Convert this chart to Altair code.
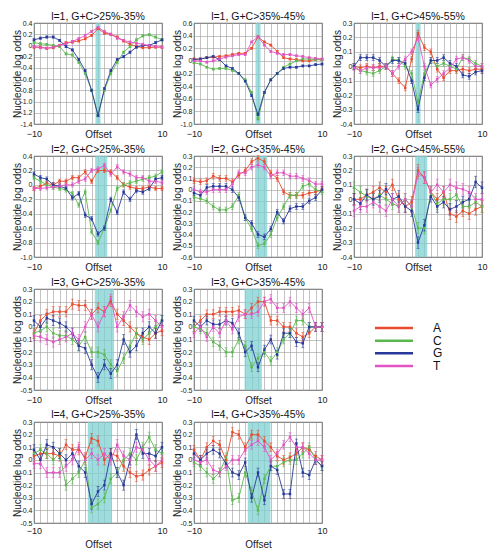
import altair as alt
import pandas as pd

offsets = list(range(-10, 11))
nucleotides = ["A", "C", "G", "T"]
colors = ["#ea4a2e", "#5bb84f", "#26399a", "#e253c4"]

panel_titles = [
    "l=1, G+C>25%-35%", "l=1, G+C>35%-45%", "l=1, G+C>45%-55%",
    "l=2, G+C>25%-35%", "l=2, G+C>35%-45%", "l=2, G+C>45%-55%",
    "l=3, G+C>25%-35%", "l=3, G+C>35%-45%",
    "l=4, G+C>25%-35%", "l=4, G+C>35%-45%",
]
y_min = [-1.4, -1.0, -0.4, -1.0, -0.6, -0.4, -0.5, -0.5, -0.5, -0.5]
y_max = [0.4, 0.6, 0.3, 0.4, 0.3, 0.3, 0.3, 0.3, 0.3, 0.3]
y_step = [0.2, 0.2, 0.1, 0.2, 0.1, 0.1, 0.1, 0.1, 0.1, 0.1]
band_lo = [-0.4, -0.4, -0.4, -0.45, -0.45, -0.45, -0.5, -2.1, -1.6, -1.6]
band_hi = [0.4, 0.4, 0.4, 1.45, 1.45, 1.45, 2.5, 0.6, 2.1, 1.95]
err_size = [0.02, 0.015, 0.02, 0.03, 0.025, 0.04, 0.04, 0.035, 0.04, 0.035]

# panel 1: l=1, GC 25-35
p1_A = [-0.03, -0.03, -0.05, -0.04, 0.00, 0.05, 0.06, 0.08, 0.12, 0.18, 0.30, 0.22, 0.20, 0.15, 0.08, 0.02, -0.02, -0.04, -0.04, -0.03, -0.03]
p1_C = [0.05, 0.03, 0.02, 0.00, -0.02, -0.15, -0.17, -0.30, -0.50, -0.80, -1.25, -0.80, -0.50, -0.30, -0.12, -0.02, 0.10, 0.17, 0.19, 0.15, 0.10]
p1_G = [0.10, 0.13, 0.15, 0.15, 0.09, -0.02, -0.08, -0.25, -0.45, -0.80, -1.25, -0.77, -0.45, -0.25, -0.20, -0.12, -0.03, 0.00, 0.00, 0.05, 0.10]
p1_T = [-0.02, -0.04, -0.05, -0.03, 0.00, 0.03, 0.07, 0.12, 0.18, 0.25, 0.32, 0.25, 0.20, 0.13, 0.09, 0.06, 0.04, 0.02, 0.00, -0.02, -0.03]
# panel 2: l=1, GC 35-45
p2_A = [0.03, 0.03, 0.05, 0.06, 0.07, 0.08, 0.10, 0.12, 0.12, 0.20, 0.38, 0.30, 0.25, 0.15, 0.05, 0.03, 0.02, 0.00, 0.00, 0.02, 0.02]
p2_C = [-0.03, -0.05, -0.10, -0.13, -0.12, -0.12, -0.15, -0.20, -0.30, -0.50, -0.92, -0.50, -0.30, -0.20, -0.10, -0.05, 0.00, 0.03, 0.03, 0.02, 0.02]
p2_G = [0.02, 0.03, 0.05, 0.07, 0.02, -0.08, -0.12, -0.20, -0.32, -0.55, -0.85, -0.50, -0.30, -0.20, -0.12, -0.10, -0.10, -0.08, -0.08, -0.06, -0.05]
p2_T = [0.00, 0.00, -0.02, 0.00, 0.03, 0.06, 0.08, 0.10, 0.10, 0.30, 0.38, 0.25, 0.15, 0.12, 0.10, 0.10, 0.08, 0.07, 0.05, 0.04, 0.03]
# panel 3: l=1, GC 45-55
p3_A = [0.00, -0.01, 0.00, -0.01, 0.00, 0.00, -0.05, -0.10, -0.15, 0.05, 0.23, 0.13, 0.10, -0.02, -0.08, -0.03, -0.03, -0.02, -0.03, -0.02, -0.02]
p3_C = [0.00, -0.03, -0.04, -0.05, -0.03, 0.00, 0.05, 0.04, 0.00, -0.05, -0.25, -0.05, 0.04, 0.00, 0.02, 0.00, -0.02, 0.06, 0.05, 0.02, 0.00]
p3_G = [0.00, 0.06, 0.06, 0.06, 0.04, 0.00, 0.04, 0.04, 0.02, -0.10, -0.30, -0.08, 0.04, 0.04, 0.06, 0.02, 0.00, -0.06, -0.07, -0.04, -0.03]
p3_T = [-0.01, -0.03, -0.01, -0.01, -0.01, 0.00, -0.05, 0.00, 0.05, 0.10, 0.20, 0.00, -0.13, -0.09, -0.05, -0.01, 0.05, 0.06, 0.04, 0.00, 0.00]
# panel 4: l=2, GC 25-35
p4_A = [-0.05, -0.02, 0.02, 0.00, 0.05, 0.05, 0.10, 0.10, 0.18, 0.05, 0.20, 0.20, 0.18, 0.10, 0.00, -0.03, -0.05, -0.05, -0.03, -0.05, -0.05]
p4_C = [0.10, 0.05, 0.00, -0.03, -0.05, -0.07, -0.12, -0.28, -0.10, -0.65, -0.80, -0.60, -0.35, -0.05, 0.00, 0.03, 0.05, 0.08, 0.10, 0.12, 0.18]
p4_G = [0.15, 0.10, 0.08, 0.00, -0.02, -0.05, -0.18, -0.12, -0.42, -0.47, -0.68, -0.60, -0.20, -0.38, -0.10, -0.20, -0.08, -0.10, -0.05, 0.08, 0.10]
p4_T = [-0.05, -0.05, -0.04, -0.03, -0.02, 0.00, 0.00, 0.05, 0.08, 0.20, 0.22, 0.27, 0.15, 0.25, 0.18, 0.15, 0.10, 0.10, 0.05, 0.05, 0.03]
# panel 5: l=2, GC 35-45
p5_A = [0.08, 0.07, 0.08, 0.12, 0.10, 0.10, 0.07, 0.13, 0.17, 0.25, 0.28, 0.25, 0.15, 0.10, -0.02, -0.05, -0.05, -0.05, -0.03, -0.02, 0.00]
p5_C = [-0.07, -0.08, -0.10, -0.15, -0.18, -0.18, -0.15, -0.05, -0.25, -0.35, -0.50, -0.48, -0.40, -0.25, -0.15, -0.05, -0.05, 0.03, 0.05, 0.00, -0.02]
p5_G = [-0.03, -0.05, 0.02, 0.03, 0.03, 0.03, 0.00, -0.07, -0.25, -0.30, -0.40, -0.42, -0.35, -0.20, -0.28, -0.17, -0.15, -0.15, -0.10, -0.07, 0.00]
p5_T = [0.00, -0.02, -0.02, 0.00, 0.00, 0.00, 0.05, 0.15, 0.15, 0.20, 0.22, 0.20, 0.12, 0.15, 0.15, 0.12, 0.12, 0.10, 0.08, 0.05, 0.05]
# panel 6: l=2, GC 45-55
p6_A = [0.00, 0.00, 0.03, 0.05, 0.08, 0.05, 0.10, 0.00, -0.05, -0.02, 0.20, 0.15, 0.05, 0.00, 0.05, -0.10, -0.12, -0.08, -0.10, -0.07, -0.05]
p6_C = [0.08, 0.05, 0.02, 0.00, 0.03, 0.00, -0.03, -0.05, 0.00, -0.05, -0.20, -0.20, 0.05, -0.03, 0.00, 0.00, 0.03, -0.05, -0.05, -0.02, -0.05]
p6_G = [0.00, -0.03, 0.03, 0.00, 0.02, 0.07, 0.00, 0.02, -0.05, -0.08, -0.30, -0.18, 0.02, -0.05, -0.02, -0.07, -0.05, -0.02, 0.00, 0.12, 0.08]
p6_T = [-0.08, -0.05, -0.05, -0.02, -0.05, -0.08, 0.00, -0.05, 0.00, -0.05, 0.18, 0.15, 0.05, 0.10, 0.05, 0.10, 0.08, 0.07, 0.05, 0.00, 0.00]
# panel 7: l=3, GC 25-35
p7_A = [-0.05, 0.05, 0.10, 0.12, 0.12, 0.12, 0.18, 0.17, 0.17, 0.10, 0.15, 0.12, 0.20, 0.10, 0.05, 0.00, -0.05, -0.08, -0.10, -0.05, -0.03]
p7_C = [-0.05, -0.03, 0.00, -0.05, -0.07, -0.07, -0.10, -0.15, -0.08, -0.20, -0.20, -0.22, -0.30, -0.35, -0.25, -0.15, -0.05, -0.10, -0.05, 0.00, 0.05]
p7_G = [0.05, 0.00, 0.07, 0.05, 0.03, 0.00, -0.05, -0.15, -0.17, -0.30, -0.40, -0.30, -0.37, -0.30, -0.10, -0.20, -0.15, -0.05, 0.00, -0.05, 0.05]
p7_T = [-0.07, -0.08, -0.10, -0.12, -0.10, -0.08, -0.05, -0.10, 0.00, 0.10, 0.00, 0.12, 0.22, 0.00, 0.08, 0.17, 0.12, 0.08, 0.10, 0.05, 0.00]
# panel 8: l=3, GC 35-45
p8_A = [0.00, 0.05, 0.10, 0.10, 0.12, 0.12, 0.12, 0.13, 0.10, 0.15, 0.20, 0.20, 0.05, 0.05, 0.00, 0.00, -0.05, -0.08, -0.05, 0.00, 0.00]
p8_C = [0.00, -0.02, -0.05, -0.12, -0.15, -0.20, -0.20, -0.10, -0.15, -0.32, -0.25, -0.20, -0.27, -0.20, -0.10, -0.05, 0.05, 0.05, 0.00, 0.00, 0.00]
p8_G = [0.05, 0.00, 0.05, 0.02, 0.02, 0.05, 0.03, -0.05, -0.20, -0.15, -0.32, -0.18, -0.10, -0.22, -0.05, -0.05, -0.12, -0.13, 0.00, 0.00, 0.00]
p8_T = [-0.05, 0.00, -0.08, 0.00, -0.05, 0.05, -0.02, 0.08, 0.10, 0.10, 0.12, 0.20, 0.22, 0.15, 0.15, 0.20, 0.15, 0.10, 0.15, 0.00, 0.00]
# panel 9: l=4, GC 25-35
p9_A = [0.03, 0.05, 0.05, 0.05, 0.03, 0.12, 0.08, 0.08, 0.02, 0.17, 0.15, 0.00, 0.05, 0.03, -0.05, -0.10, -0.13, -0.12, -0.08, -0.05, -0.02]
p9_C = [0.05, 0.08, 0.05, 0.00, 0.05, -0.20, -0.15, -0.10, 0.00, -0.38, -0.35, -0.30, -0.15, -0.10, 0.00, 0.05, 0.00, 0.10, 0.18, 0.08, 0.05]
p9_G = [0.08, 0.00, 0.12, 0.10, 0.05, 0.00, 0.05, -0.05, -0.10, -0.35, -0.25, -0.20, 0.05, -0.10, -0.20, 0.00, 0.20, 0.05, 0.05, 0.03, 0.10]
p9_T = [-0.03, -0.03, -0.10, -0.10, -0.10, -0.05, 0.00, 0.10, 0.00, 0.05, 0.00, 0.05, 0.00, 0.12, 0.03, 0.00, 0.10, 0.08, 0.00, -0.05, 0.00]
# panel 10: l=4, GC 35-45
p10_A = [0.08, 0.00, 0.10, 0.15, 0.12, 0.00, 0.22, 0.20, 0.10, 0.20, 0.20, 0.15, 0.10, 0.03, 0.00, 0.02, 0.05, 0.10, 0.08, 0.03, 0.00]
p10_C = [-0.02, -0.05, -0.10, -0.15, -0.10, 0.02, -0.32, -0.30, -0.10, -0.25, -0.40, -0.15, -0.05, -0.05, -0.02, 0.00, 0.00, 0.05, 0.10, 0.00, -0.05]
p10_G = [0.05, 0.00, 0.05, 0.08, 0.05, -0.03, -0.10, -0.12, -0.02, -0.30, -0.10, -0.32, -0.05, -0.08, -0.27, -0.27, 0.13, -0.10, -0.12, 0.00, -0.05]
p10_T = [0.00, -0.02, 0.00, -0.08, -0.10, -0.05, 0.00, 0.00, 0.08, 0.12, 0.15, 0.10, 0.00, 0.05, 0.12, 0.18, 0.10, 0.10, 0.05, 0.00, 0.00]

panel_series = [
    [p1_A, p1_C, p1_G, p1_T], [p2_A, p2_C, p2_G, p2_T], [p3_A, p3_C, p3_G, p3_T],
    [p4_A, p4_C, p4_G, p4_T], [p5_A, p5_C, p5_G, p5_T], [p6_A, p6_C, p6_G, p6_T],
    [p7_A, p7_C, p7_G, p7_T], [p8_A, p8_C, p8_G, p8_T],
    [p9_A, p9_C, p9_G, p9_T], [p10_A, p10_C, p10_G, p10_T],
]

FONT = "Liberation Sans"
color_scale = alt.Scale(domain=nucleotides, range=colors)
PW, PH = 128, 101


def make_panel(i, bottom_row=False):
    rows = []
    for nuc, vals in zip(nucleotides, panel_series[i]):
        for off, v in zip(offsets, vals):
            rows.append({"offset": off, "value": v, "nuc": nuc,
                         "lo": v - err_size[i], "hi": v + err_size[i]})
    df = pd.DataFrame(rows)
    n = int(round((y_max[i] - y_min[i]) / y_step[i]))
    yticks = [round(y_min[i] + k * y_step[i], 2) for k in range(n + 1)]
    xs = alt.Scale(domain=[-10, 10], nice=False, zero=False)
    ys = alt.Scale(domain=[y_min[i], y_max[i]], nice=False, zero=False)
    xaxis = alt.Axis(
        values=offsets, grid=True, ticks=False, tickSize=0, domain=False,
        labelExpr="abs(datum.value) == 10 ? format(datum.value, 'd') : ''",
        labelFontSize=9, labelPadding=(3 if bottom_row else 5), labelFlush=False,
        title="Offset", titleFontSize=10, titleFontWeight="normal",
        titleBaseline="middle", titleY=(21 if bottom_row else 10), titleX=PW / 2,
    )
    yaxis = alt.Axis(
        values=yticks, grid=True, ticks=False, tickSize=0, domain=False,
        labelExpr="datum.value == 0 ? '0' : replace(format(datum.value, '.1f'), '\u2212', '-')",
        labelFontSize=7, labelPadding=2,
        title="Nucleotide log odds", titleFontSize=10, titleFontWeight="normal",
        titleBaseline="middle", titleX=-17, titleY=PH / 2, titleAngle=-90,
    )
    band_df = pd.DataFrame({"lo": [band_lo[i]], "hi": [band_hi[i]]})
    band = alt.Chart(band_df).mark_rect(color="#7fd0d2", opacity=0.75).encode(
        x=alt.X("lo:Q", scale=xs, axis=xaxis), x2="hi:Q",
        y=alt.value(0), y2=alt.value(PH),
    )
    base = alt.Chart(df).encode(
        x=alt.X("offset:Q", scale=xs, axis=xaxis),
        color=alt.Color("nuc:N", scale=color_scale, legend=None),
    )
    err = base.mark_rule(strokeWidth=0.7).encode(
        y=alt.Y("lo:Q", scale=ys, axis=yaxis), y2="hi:Q")
    cap_lo = base.mark_tick(orient="horizontal", size=3, thickness=0.7).encode(
        y=alt.Y("lo:Q", scale=ys, axis=yaxis))
    cap_hi = base.mark_tick(orient="horizontal", size=3, thickness=0.7).encode(
        y=alt.Y("hi:Q", scale=ys, axis=yaxis))
    line = base.mark_line(strokeWidth=0.9).encode(
        y=alt.Y("value:Q", scale=ys, axis=yaxis), detail="nuc:N")
    pts = base.mark_square(size=6, opacity=1).encode(
        y=alt.Y("value:Q", scale=ys, axis=yaxis))
    title_df = pd.DataFrame({"t": [panel_titles[i]]})
    title = alt.Chart(title_df).mark_text(
        fontSize=10.5, font=FONT, color="#111", baseline="middle", align="center"
    ).encode(x=alt.value(PW / 2), y=alt.value(-7 if bottom_row else -6), text="t:N")
    return alt.layer(band, err, cap_lo, cap_hi, line, pts, title).properties(
        width=PW, height=PH)


leg_df = pd.DataFrame({"nuc": nucleotides})
ly = alt.Y("nuc:N", scale=alt.Scale(type="point", domain=nucleotides, range=[39, 77], padding=0), axis=None)
leg_rules = alt.Chart(leg_df).mark_rule(strokeWidth=2.5).encode(
    x=alt.value(21), x2=alt.value(59), y=ly,
    color=alt.Color("nuc:N", scale=color_scale, legend=None))
leg_text = alt.Chart(leg_df).mark_text(align="left", baseline="middle", fontSize=12, font=FONT, color="#111").encode(
    x=alt.value(79), y=ly, text="nuc:N")
legend = alt.layer(leg_rules, leg_text).properties(
    width=PW, height=PH, view=alt.ViewBackground(stroke="transparent"))

panels = [make_panel(i) for i in range(8)] + [legend] + [make_panel(8, True), make_panel(9, True)]
chart = alt.concat(*panels, columns=3, spacing=32, bounds="flush").properties(
    padding={"left": 11, "top": 11, "right": 5, "bottom": 4},
    background="white",
).configure_view(stroke="#222", strokeWidth=0.8).configure_axis(
    gridColor="#9a9a9a", gridWidth=0.6, labelColor="#222", titleColor="#222",
    labelFont=FONT, titleFont=FONT,
)

chart.save("out.html", embed_options={"renderer": "svg", "actions": False})
